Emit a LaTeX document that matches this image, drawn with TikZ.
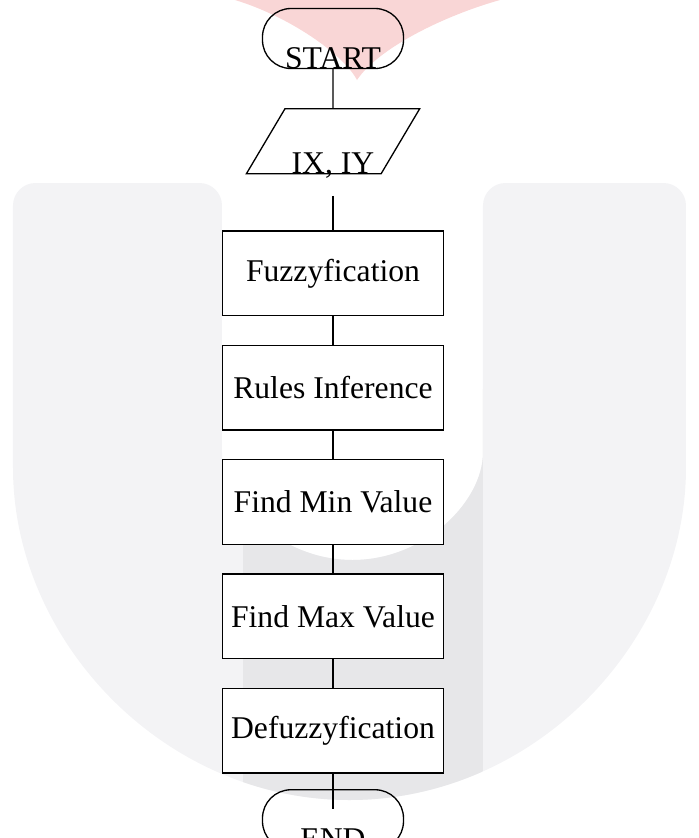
\documentclass[tikz,border=0pt]{standalone}
\usepackage{fontspec}
\setmainfont{Liberation Serif}
\usetikzlibrary{positioning,shapes.geometric}

\definecolor{wmgray}{RGB}{243,243,245}
\definecolor{wmstem}{RGB}{231,231,233}
\definecolor{wmpink}{RGB}{249,214,214}

\newcommand{\ushape}{(-6.4,-2.89) -- (-6.4,-8.13)
  arc[start angle=180, end angle=360, x radius=6.73, y radius=7.1]
  -- (7.06,-2.89) -- (3.0,-2.89) -- (3.0,-7.83)
  arc[start angle=0, end angle=-180, x radius=2.61, y radius=2.6]
  -- (-2.22,-2.89) -- cycle}

\begin{document}
\begin{tikzpicture}[
  font=\fontsize{18}{21}\selectfont, line width=0.75pt, node distance=5.7mm,
  term/.style={draw, rounded corners=0.57cm, minimum width=2.82cm, minimum height=1.14cm,
               inner sep=0pt, text height=1.2cm, text depth=-0.06cm},
  io/.style={draw, trapezium, trapezium left angle=63, trapezium right angle=117,
             trapezium stretches=true, minimum width=3.47cm, minimum height=1.3cm,
             inner sep=0pt, text height=1.3cm, text depth=0pt},
  proc/.style={draw, fill=white, minimum width=4.41cm, minimum height=1.69cm, inner sep=0pt},
]
\useasboundingbox (-6.66,0.77) rectangle (7.32,-15.99);

% watermark behind the chart
\fill[wmpink] (-1.96,0.77) .. controls (-0.9,0.45) and (0.2,-0.3) .. (0.48,-0.83)
  .. controls (0.9,-0.2) and (2.2,0.45) .. (3.34,0.77) -- cycle;
\fill[wmgray, even odd rule, rounded corners=0.45cm] \ushape;
\begin{scope}
  \clip[rounded corners=0.45cm] \ushape;
  \fill[wmstem] (-1.8,-7.0) rectangle (3.0,-16);
\end{scope}

\node[term] (start) {START};
\node[io, below=7.8mm of start] (input) {IX, IY};
\node[proc, below=11.2mm of input] (fuzz) {Fuzzyfication};
\node[proc, below=of fuzz] (rules) {Rules Inference};
\node[proc, below=of rules] (minval) {Find Min Value};
\node[proc, below=of minval] (maxval) {Find Max Value};
\node[proc, below=of maxval] (defuzz) {Defuzzyfication};
\node[term, below=3.1mm of defuzz] (stop) {END};

\coordinate[below=4.3mm of input] (inputgap);
\coordinate[below=7mm of defuzz] (stopgap);

\draw (start) -- (input);
\draw (inputgap) -- (fuzz);
\foreach \a/\b in {fuzz/rules, rules/minval, minval/maxval, maxval/defuzz}
  \draw (\a) -- (\b);
\draw (defuzz) -- (stopgap);
\end{tikzpicture}
\end{document}
